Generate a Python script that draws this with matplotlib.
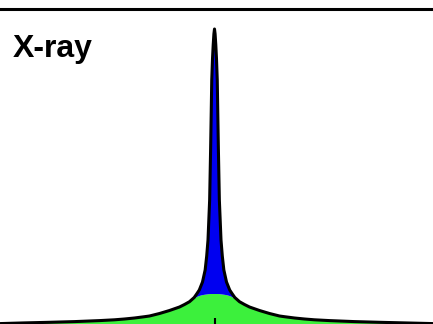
import matplotlib
matplotlib.use("Agg")
import matplotlib.pyplot as plt

# energy offset from the line centre (channels)
offset = [-215, -190, -165, -140, -115, -100, -90, -80, -70, -65, -55, -45,
          -35, -30, -25, -20.3, -17.5, -15.2, -12, -9.35, -7.8, -6.5, -4.85,
          -3.9, -3.3, -2.75, -2, -1.3, -0.6, 0,
          0.6, 1.3, 2, 2.75, 3.3, 3.9, 4.85, 6.5, 7.8, 9.35, 12, 15.2, 17.5,
          20.3, 25, 30, 35, 45, 55, 65, 70, 80, 90, 100, 115, 140, 165, 190, 219]

# total intensity (black outline)
total = [0.4, 1.1, 1.7, 2.4, 3.4, 4.2, 5, 6, 7.3, 8, 10.5, 13.5,
         17, 19.5, 22.3, 26.5, 30.5, 34, 42, 54, 68, 84, 124,
         174, 210, 244, 265, 279, 290, 295,
         290, 279, 265, 244, 210, 174, 124, 84, 68, 54, 42, 34, 30.5,
         26.5, 22.3, 19.5, 17, 13.5, 10.5, 8, 7.3, 6, 5, 4.2, 3.4, 2.4, 1.7, 1.1, 0.4]

# broad component (green)
broad = [0.4, 1.1, 1.7, 2.4, 3.4, 4.2, 5, 6, 7.3, 8, 10.5, 13.5,
         17, 19.5, 22.3, 25.3, 27, 28, 28.9, 29.3, 29.5, 29.7, 29.9,
         30, 30, 30, 30, 30, 30, 30,
         30, 30, 30, 30, 30, 30, 29.9, 29.7, 29.5, 29.3, 28.9, 28, 27,
         25.3, 22.3, 19.5, 17, 13.5, 10.5, 8, 7.3, 6, 5, 4.2, 3.4, 2.4, 1.7, 1.1, 0.4]

tick_pos = [0]

fig = plt.figure(figsize=(4.33, 3.24), dpi=100)
ax = fig.add_axes([0, 0, 1, 1 - 8.5 / 324])

ax.fill_between(offset, 0, broad, color="#3cf03c", linewidth=0)
ax.fill_between(offset, broad, total, color="#0000f0", linewidth=0)
ax.plot(offset, total, color="black", linewidth=2.2, solid_joinstyle="round")

ax.set_xlim(-214.5, 218.5)
ax.set_ylim(0, 315.5)

for side in ["left", "right", "bottom"]:
    ax.spines[side].set_visible(False)
ax.spines["top"].set_linewidth(2.2)

ax.set_xticks(tick_pos)
ax.set_xticklabels([])
ax.set_yticks([])
ax.tick_params(axis="x", direction="in", length=4, width=1.5, color="black")

fig.text(13 / 433, 1 - 57.5 / 324, "X-ray", fontsize=23, fontweight="bold",
         family=["Liberation Sans", "DejaVu Sans"], va="baseline", ha="left")

fig.savefig("out.png", dpi=100)
